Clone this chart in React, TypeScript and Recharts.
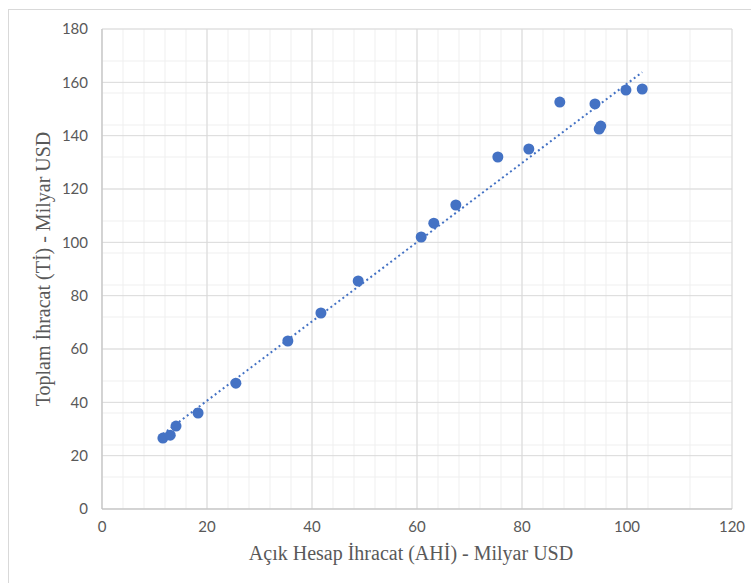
import { ScatterChart, Scatter, XAxis, YAxis, CartesianGrid, ReferenceLine } from "recharts"

// Açık Hesap İhracat (AHİ) vs Toplam İhracat (Tİ), Milyar USD
const ahi = [11.6, 13.0, 14.1, 18.3, 25.5, 35.4, 41.7, 48.8, 60.8, 63.2, 67.4, 75.4, 81.3, 87.2, 93.9, 94.7, 95.0, 99.8, 102.9]
const ti = [26.6, 27.7, 31.1, 36.0, 47.2, 63.0, 73.5, 85.5, 102.0, 107.2, 114.0, 132.0, 135.0, 152.6, 151.9, 142.5, 143.6, 157.1, 157.5]

const xTicks = [0, 20, 40, 60, 80, 100, 120]
const yTicks = [0, 20, 40, 60, 80, 100, 120, 140, 160, 180]
const xMinor = Array.from({ length: 31 }, (_, i) => i * 4)
const yMinor = Array.from({ length: 46 }, (_, i) => i * 4)

const points = ahi.map((x, i) => ({ x, y: ti[i] }))

// linear trendline (least squares) from the points
const n = ahi.length
const mx = ahi.reduce((a, b) => a + b, 0) / n
const my = ti.reduce((a, b) => a + b, 0) / n
let sxy = 0
let sxx = 0
ahi.forEach((x, i) => {
  sxy += (x - mx) * (ti[i] - my)
  sxx += (x - mx) * (x - mx)
})
const slope = sxy / sxx
const intercept = my - slope * mx
const x0 = Math.min(...ahi)
const x1 = Math.max(...ahi)

const blue = "#4472C4"
const tickStyle = { fill: "#595959", fontSize: 15, fontFamily: "Lato, sans-serif" }
const titleFont = "'Liberation Serif', 'DejaVu Serif', serif"

function Dot(props: any) {
  const { cx, cy } = props
  return <circle cx={cx} cy={cy} r={5.5} fill={blue} />
}

export default function App() {
  return (
    <div style={{ position: "absolute", left: 0, top: 0, width: 751, height: 583, overflow: "hidden", background: "#fff" }}>
      <div style={{ position: "absolute", left: 8, top: 9, width: 800, height: 640, border: "1px solid #d9d9d9" }} />
      <div style={{ position: "absolute", left: 0, top: 0 }}>
        <ScatterChart width={751} height={583} margin={{ top: 29, right: 19, bottom: 0, left: 0 }}>
          <CartesianGrid stroke="#efefef" verticalValues={xMinor} horizontalValues={yMinor} />
          <CartesianGrid stroke="#d9d9d9" verticalValues={xTicks} horizontalValues={yTicks} />
          <XAxis
            type="number"
            dataKey="x"
            domain={[0, 120]}
            ticks={xTicks}
            height={74}
            tickLine={false}
            tickSize={4}
            tickMargin={8}
            stroke="#bfbfbf"
            tick={tickStyle}
            label={{
              content: ({ viewBox }: any) => (
                <text x={viewBox.x + viewBox.width / 2 - 6} y={viewBox.y + 51} textAnchor="middle" fill="#595959" fontSize={20} fontFamily={titleFont}>
                  Açık Hesap İhracat (AHİ) - Milyar USD
                </text>
              ),
            }}
          />
          <YAxis
            type="number"
            dataKey="y"
            domain={[0, 180]}
            ticks={yTicks}
            width={102}
            tickLine={false}
            tickSize={6}
            tickMargin={8}
            stroke="#bfbfbf"
            tick={tickStyle}
            label={{
              content: ({ viewBox }: any) => {
                const cx = 45
                const cy = viewBox.y + viewBox.height / 2
                return (
                  <text x={cx} y={cy} transform={`rotate(-90 ${cx} ${cy})`} textAnchor="middle" dominantBaseline="middle" fill="#595959" fontSize={20} fontFamily={titleFont}>
                    Toplam İhracat (Tİ) - Milyar USD
                  </text>
                )
              },
            }}
          />
          <ReferenceLine
            segment={[
              { x: x0, y: slope * x0 + intercept },
              { x: x1, y: slope * x1 + intercept },
            ]}
            stroke={blue}
            strokeWidth={2}
            strokeDasharray="2 3"
            ifOverflow="visible"
          />
          <Scatter data={points} fill={blue} shape={<Dot />} isAnimationActive={false} />
        </ScatterChart>
      </div>
    </div>
  )
}
